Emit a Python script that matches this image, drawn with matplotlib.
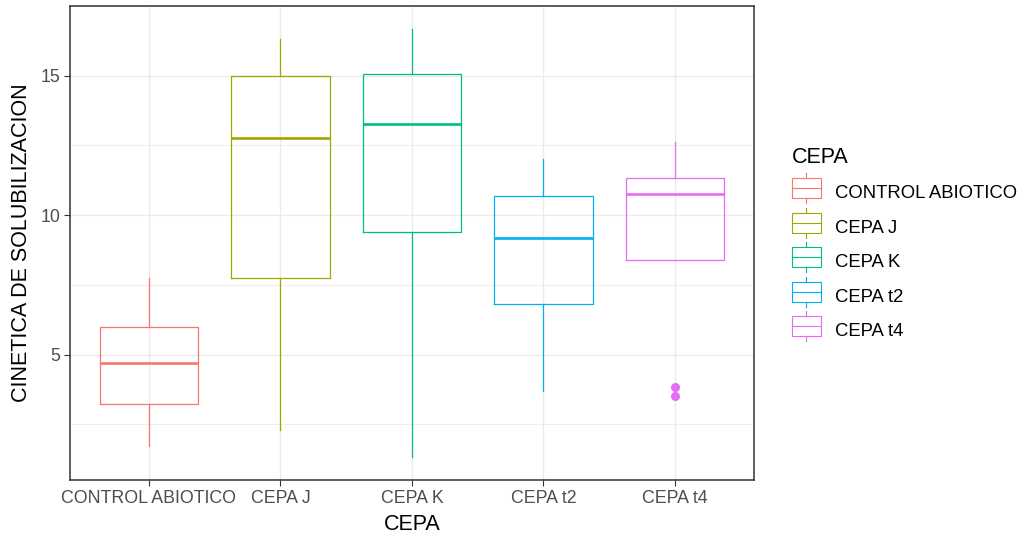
import matplotlib.pyplot as plt
from matplotlib.legend_handler import HandlerBase
from matplotlib.patches import Rectangle
from matplotlib.lines import Line2D

plt.rcParams['font.family'] = ['Liberation Sans', 'DejaVu Sans']

categories = ['CONTROL ABIOTICO', 'CEPA J', 'CEPA K', 'CEPA t2', 'CEPA t4']
colors = ['#F8766D', '#A3A500', '#00BF7D', '#00B0F6', '#E76BF3']
whislo = [1.71, 2.29, 1.32, 3.71, 8.39]
q1 = [3.21, 7.75, 9.39, 6.82, 8.39]
med = [4.71, 12.75, 13.25, 9.18, 10.75]
q3 = [6.00, 15.00, 15.07, 10.68, 11.32]
whishi = [7.75, 16.32, 16.68, 12.00, 12.61]
fliers = [[], [], [], [], [3.82, 3.50]]


class BoxHandler(HandlerBase):
    def create_artists(self, legend, orig, xd, yd, w, h, fontsize, trans):
        c = orig.get_color()
        bh = h * 1.2
        y0 = yd + (h - bh) / 2
        rect = Rectangle((xd, y0), w, bh, fill=False, edgecolor=c, lw=0.8, transform=trans)
        mid = Line2D([xd, xd + w], [y0 + bh / 2] * 2, color=c, lw=0.8, transform=trans)
        top = Line2D([xd + w / 2] * 2, [y0 + bh, y0 + bh + h * 0.3], color=c, lw=0.8, transform=trans)
        bot = Line2D([xd + w / 2] * 2, [y0, y0 - h * 0.3], color=c, lw=0.8, transform=trans)
        return [rect, mid, top, bot]


fig = plt.figure(figsize=(10.19, 5.37), dpi=100)
ax = fig.add_axes([0.0687, 0.106, 0.671, 0.883])

for i, cat in enumerate(categories):
    st = [dict(med=med[i], q1=q1[i], q3=q3[i], whislo=whislo[i], whishi=whishi[i], fliers=fliers[i])]
    c = colors[i]
    ax.bxp(st, positions=[i + 1], widths=0.75, showcaps=False, patch_artist=False,
           boxprops=dict(color=c, lw=0.9),
           whiskerprops=dict(color=c, lw=0.9),
           medianprops=dict(color=c, lw=1.9),
           flierprops=dict(marker='o', markerfacecolor=c, markeredgecolor=c, markersize=5.5))

ax.set_xlim(0.4, 5.6)
ax.set_ylim(0.5, 17.43)
ax.set_xticks(range(1, 6))
ax.set_xticklabels(categories)
ax.set_yticks([5, 10, 15])
ax.set_yticks([2.5, 7.5, 12.5, 17.5], minor=True)
ax.grid(True, which='major', color='#EBEBEB', lw=1.0)
ax.grid(True, which='minor', axis='y', color='#EBEBEB', lw=0.6)
ax.set_axisbelow(True)
ax.tick_params(which='major', length=4, color='#333333', labelsize=12.8, labelcolor='#4D4D4D', pad=3)
ax.tick_params(which='minor', length=0)
for s in ax.spines.values():
    s.set_color('#333333')
    s.set_linewidth(1.1)
ax.set_xlabel('CEPA', fontsize=15.5, labelpad=5)
ax.set_ylabel('CINETICA DE SOLUBILIZACION', fontsize=15.5, labelpad=6)

handles = [Line2D([], [], color=c) for c in colors]
leg = fig.legend(handles, categories, title='CEPA', handler_map={Line2D: BoxHandler()},
                 loc='upper left', bbox_to_anchor=(0.770, 0.74), frameon=False,
                 fontsize=13.3, title_fontsize=15.5, handlelength=1.55, handleheight=1.0,
                 labelspacing=0.86, handletextpad=0.8, borderaxespad=0)
leg._legend_box.align = 'left'

fig.savefig('out.png', dpi=100)
